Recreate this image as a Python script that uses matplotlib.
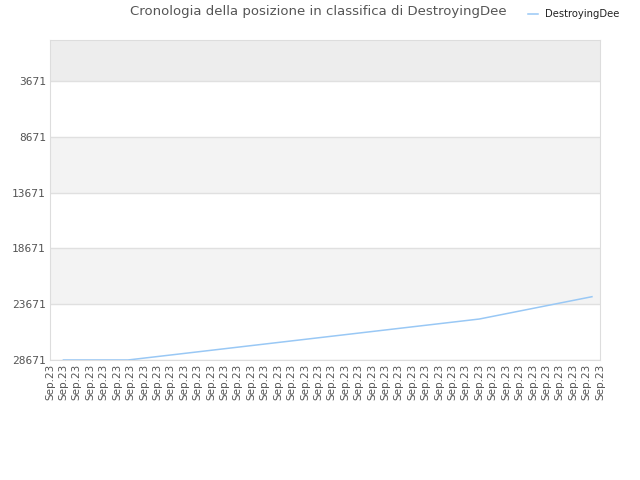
import matplotlib
matplotlib.use("Agg")
import matplotlib.pyplot as plt

# Data
title = "Cronologia della posizione in classifica di DestroyingDee"
series_name = "DestroyingDee"
n_ticks = 42
tick_labels = ["Sep.23"] * n_ticks
x_pos = [1.0, 5.8, 32.0, 40.4]
ranks = [28671, 28671, 25000, 23000]
y_ticks = [3671, 8671, 13671, 18671, 23671, 28671]
y_top = 0
y_bottom = 28671

fig = plt.figure(figsize=(6.4, 4.8), dpi=100)
ax = fig.add_axes([50/640, 1-360/480, 550/640, 320/480])

# bands
ax.axhspan(y_top, y_ticks[0], color="#ededed", zorder=0, lw=0)
for i in range(len(y_ticks) - 1):
    if i % 2 == 1:
        ax.axhspan(y_ticks[i], y_ticks[i+1], color="#f3f3f3", zorder=0, lw=0)
for yt in y_ticks:
    ax.axhline(yt, color="#e0e0e0", lw=1, zorder=1)

ax.plot(x_pos, ranks, color="#99c8f5", lw=1.1, zorder=3, label=series_name)

ax.set_xlim(0, n_ticks - 1)
ax.set_ylim(y_bottom, y_top)
ax.set_yticks(y_ticks)
ax.set_yticklabels([str(v) for v in y_ticks], family="DejaVu Sans Mono", fontsize=8, color="#555555")
ax.set_xticks(range(n_ticks))
ax.set_xticklabels(tick_labels, rotation=90, fontsize=7.5, color="#555555")
ax.tick_params(length=0, pad=3)
for s in ax.spines.values():
    s.set_color("#dddddd")

fig.text(0.497, 0.975, title, ha="center", va="center", fontsize=9.5, color="#555555")
leg = fig.legend(loc="center left", bbox_to_anchor=(524/640, 1-14/480), frameon=False,
                 fontsize=7.2, handlelength=1.0, handletextpad=0.7, borderaxespad=0)
for t in leg.get_texts():
    t.set_color("#222222")

fig.savefig("out.png", dpi=100)
